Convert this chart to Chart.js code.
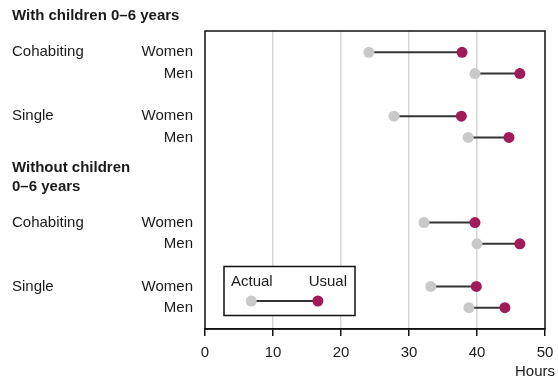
<!DOCTYPE html>
<html>
<head>
<meta charset="utf-8">
<script src="https://cdn.jsdelivr.net/npm/chart.js@4"></script>
<style>
  html, body { margin: 0; padding: 0; background: #fff; }
  #wrap { width: 558px; height: 381px; }
</style>
</head>
<body>
<div id="wrap"><canvas id="chart" width="558" height="381"></canvas></div>
<script>
// rows, top to bottom
const rowPos = [1, 2, 4, 5, 9, 10, 12, 13];
const statusLabels = ['Cohabiting', '', 'Single', '', 'Cohabiting', '', 'Single', ''];
const sexLabels = ['Women', 'Men', 'Women', 'Men', 'Women', 'Men', 'Women', 'Men'];
const actualHours = [24.1, 39.7, 27.8, 38.7, 32.2, 40.0, 33.2, 38.8];
const usualHours = [37.8, 46.3, 37.7, 44.7, 39.7, 46.3, 39.9, 44.1];
const xTicks = [0, 10, 20, 30, 40, 50];

const groupHeaders = [
  { lines: ['With children 0–6 years'], at: [-0.72] },
  { lines: ['Without children', '0–6 years'], at: [6.43, 7.33] }
];

const FONT = "'Liberation Sans', Arial, sans-serif";
const GREY = '#c9c9c9';
const PURPLE = '#a01a5c';
const TXT = '#1a1a1a';

const dotData = vals => rowPos.map((y, i) => ({ x: vals[i], y: y }));

const connectors = rowPos.map((y, i) => ({
  data: [{ x: actualHours[i], y: y }, { x: usualHours[i], y: y }],
  showLine: true,
  pointRadius: 0,
  borderColor: '#333',
  borderWidth: 2,
  order: 2
}));

const extras = {
  id: 'extras',
  afterDraw(chart) {
    const ctx = chart.ctx;
    const a = chart.chartArea;
    const x = chart.scales.x, y = chart.scales.y;
    ctx.save();

    // frame
    ctx.strokeStyle = '#111';
    ctx.lineWidth = 1.5;
    ctx.strokeRect(a.left, a.top, a.right - a.left, a.bottom - a.top);

    // row labels
    ctx.fillStyle = TXT;
    ctx.font = '15px ' + FONT;
    ctx.textBaseline = 'middle';
    rowPos.forEach((r, i) => {
      const py = y.getPixelForValue(r);
      ctx.textAlign = 'left';
      if (statusLabels[i]) ctx.fillText(statusLabels[i], 12, py);
      ctx.textAlign = 'right';
      ctx.fillText(sexLabels[i], a.left - 12, py);
    });

    // group headers
    ctx.font = 'bold 15px ' + FONT;
    ctx.textAlign = 'left';
    groupHeaders.forEach(g => {
      g.lines.forEach((t, j) => ctx.fillText(t, 12, y.getPixelForValue(g.at[j])));
    });

    // axis title
    ctx.font = '15px ' + FONT;
    ctx.textAlign = 'right';
    ctx.fillText('Hours', 555, 372);

    // legend
    const lx = a.left + 19, ly = 266.5, lw = 131, lh = 49;
    ctx.fillStyle = '#fff';
    ctx.fillRect(lx, ly, lw, lh);
    ctx.strokeStyle = '#111';
    ctx.lineWidth = 1.5;
    ctx.strokeRect(lx, ly, lw, lh);
    ctx.fillStyle = TXT;
    ctx.textAlign = 'left';
    ctx.fillText('Actual', lx + 7, ly + 15.5);
    ctx.textAlign = 'right';
    ctx.fillText('Usual', lx + lw - 8, ly + 15.5);
    const g1 = x.getPixelForValue(6.8), g2 = x.getPixelForValue(16.6), gy = ly + 34.5;
    ctx.strokeStyle = '#333';
    ctx.lineWidth = 2;
    ctx.beginPath();
    ctx.moveTo(g1, gy);
    ctx.lineTo(g2, gy);
    ctx.stroke();
    ctx.fillStyle = GREY;
    ctx.beginPath(); ctx.arc(g1, gy, 5.5, 0, Math.PI * 2); ctx.fill();
    ctx.fillStyle = PURPLE;
    ctx.beginPath(); ctx.arc(g2, gy, 5.5, 0, Math.PI * 2); ctx.fill();

    ctx.restore();
  }
};

new Chart(document.getElementById('chart'), {
  type: 'scatter',
  data: {
    datasets: [
      { data: dotData(actualHours), backgroundColor: GREY, borderWidth: 0, pointRadius: 5.5, order: 0 },
      { data: dotData(usualHours), backgroundColor: PURPLE, borderWidth: 0, pointRadius: 5.5, order: 0 }
    ].concat(connectors)
  },
  options: {
    responsive: false,
    animation: false,
    events: [],
    layout: { padding: { left: 205, right: 13, top: 31, bottom: 0 } },
    plugins: { legend: { display: false }, tooltip: { enabled: false } },
    scales: {
      x: {
        type: 'linear',
        min: 0,
        max: 50,
        afterFit: s => { s.height = 52; s.paddingRight = 0; s.paddingLeft = 0; },
        afterBuildTicks: s => { s.ticks = xTicks.map(v => ({ value: v })); },
        ticks: { color: TXT, font: { family: FONT, size: 15 }, padding: 8, maxRotation: 0 },
        grid: {
          color: c => (c.tick && (c.tick.value === 0 || c.tick.value === 50)) ? 'rgba(0,0,0,0)' : '#d6d6d6',
          lineWidth: 1.5,
          tickColor: '#111',
          tickLength: 7,
          tickWidth: 1.5
        },
        border: { display: true, color: '#111', width: 1.5 }
      },
      y: {
        type: 'linear',
        reverse: true,
        min: 0,
        max: 14,
        display: false
      }
    }
  },
  plugins: [extras]
});
</script>
</body>
</html>
